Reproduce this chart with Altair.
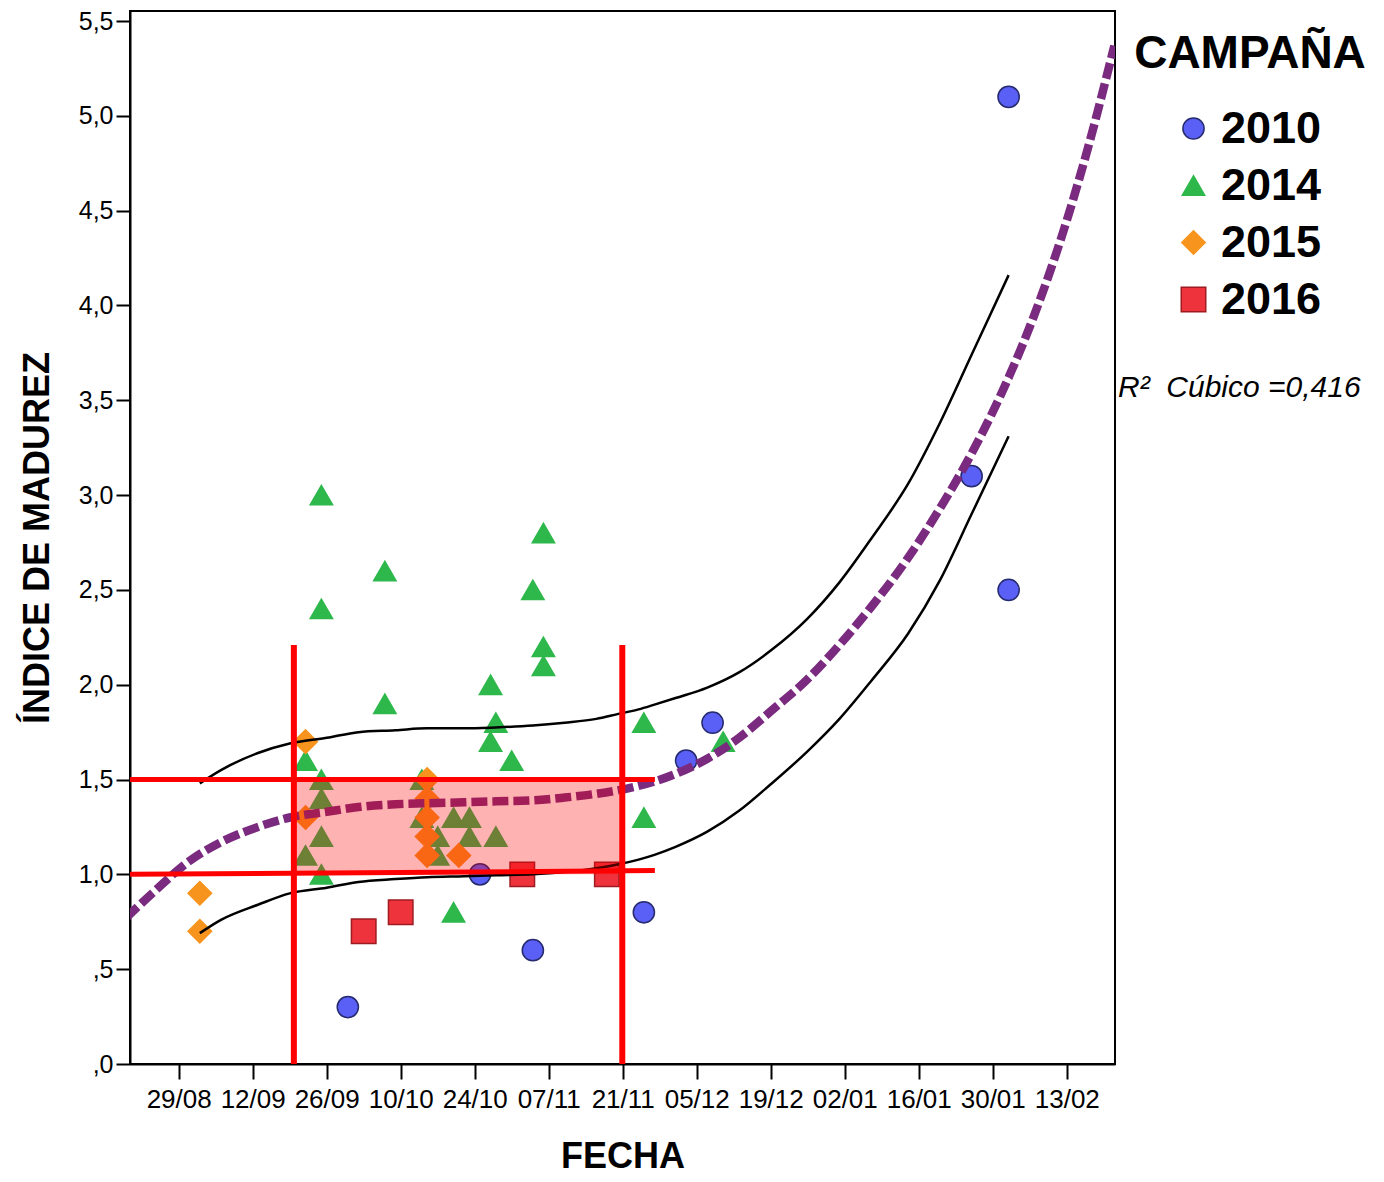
import altair as alt
import pandas as pd

# ---------------- data ----------------
CAMPANAS = ["2010", "2014", "2015", "2016"]

# 2010 (circles)
D2010_FECHA = ["09-30", "10-25", "11-04", "11-25", "12-03", "12-08", "01-26", "02-02", "02-02"]
D2010_IM = [0.30, 1.00, 0.60, 0.80, 1.60, 1.80, 3.10, 5.10, 2.50]

# 2014 (triangles)
D2014_FECHA = ["09-25", "09-25", "10-07", "10-07", "09-22", "09-25", "09-25", "09-25", "09-22", "09-25",
               "10-14", "10-14", "10-17", "10-17", "10-20", "10-23", "10-23", "10-28", "10-20",
               "10-27", "10-28", "10-27", "10-31", "11-04", "11-06", "11-06", "11-06",
               "11-25", "11-25", "12-10"]
D2014_IM = [3.0, 2.4, 2.6, 1.9, 1.6, 1.5, 1.4, 1.2, 1.1, 1.0,
            1.5, 1.3, 1.2, 1.1, 1.3, 1.3, 1.2, 1.2, 0.8,
            2.0, 1.8, 1.7, 1.6, 2.5, 2.8, 2.2, 2.1,
            1.8, 1.3, 1.7]

# 2015 (diamonds)
D2015_FECHA = ["09-02", "09-02", "09-22", "09-22", "10-15", "10-15", "10-15", "10-15", "10-15", "10-21"]
D2015_IM = [0.9, 0.7, 1.7, 1.3, 1.5, 1.4, 1.3, 1.2, 1.1, 1.1]

# 2016 (squares)
D2016_FECHA = ["10-03", "10-10", "11-02", "11-18"]
D2016_IM = [0.70, 0.80, 1.00, 1.00]

# cubic fit and its confidence bounds
FIT_FECHA = ["08-19", "08-24", "08-31", "09-06", "09-13", "09-19", "09-26", "10-02", "10-09",
             "10-15", "10-22", "10-28", "11-04", "11-10", "11-16", "11-23", "11-27", "12-01",
             "12-07", "12-13", "12-19", "12-26", "01-01", "01-07", "01-14", "01-20", "01-26",
             "02-02", "02-07", "02-12", "02-17", "02-22"]
FIT_IM = [0.77, 0.90, 1.07, 1.17, 1.25, 1.30, 1.33, 1.355, 1.37,
          1.375, 1.38, 1.385, 1.39, 1.405, 1.425, 1.46, 1.49, 1.53,
          1.61, 1.72, 1.86, 2.03, 2.21, 2.41, 2.67, 2.93, 3.22,
          3.62, 3.96, 4.36, 4.83, 5.37]

CI_FECHA = ["09-02", "09-06", "09-13", "09-19", "09-26", "10-02", "10-09", "10-15", "10-22",
            "10-28", "11-04", "11-10", "11-16", "11-20", "11-24", "11-27", "12-01", "12-07",
            "12-13", "12-19", "12-26", "01-01", "01-07", "01-14", "01-20", "01-26", "02-02"]
CI_UPPER = [1.48, 1.55, 1.64, 1.69, 1.72, 1.75, 1.76, 1.77, 1.77,
            1.775, 1.785, 1.80, 1.82, 1.845, 1.87, 1.895, 1.93, 1.985,
            2.065, 2.18, 2.35, 2.54, 2.77, 3.06, 3.38, 3.74, 4.16]
CI_LOWER = [0.69, 0.76, 0.84, 0.90, 0.93, 0.96, 0.975, 0.985, 0.99,
            0.995, 1.00, 1.012, 1.032, 1.052, 1.078, 1.103, 1.145, 1.225,
            1.335, 1.475, 1.65, 1.82, 2.02, 2.27, 2.55, 2.90, 3.31]

# highlighted window (red lines and shaded band)
WIN_START = "09-19T19:00"
WIN_END = "11-20T22:00"
WIN_TOP = 2.21
IM_LOW = [1.0, 1.02]
IM_HIGH = [1.5, 1.5]
H_LINE_END = "11-27T02:00"

X_MIN = "08-19T19:00"
X_MAX = "02-22T03:00"

X_TICKS = ["08-29", "09-12", "09-26", "10-10", "10-24", "11-07", "11-21",
           "12-05", "12-19", "01-02", "01-16", "01-30", "02-13"]
X_TICK_LABELS = ["29/08", "12/09", "26/09", "10/10", "24/10", "07/11", "21/11",
                 "05/12", "19/12", "02/01", "16/01", "30/01", "13/02"]
Y_TICKS = [0, 0.5, 1.0, 1.5, 2.0, 2.5, 3.0, 3.5, 4.0, 4.5, 5.0, 5.5]
Y_TICK_LABELS = [",0", ",5", "1,0", "1,5", "2,0", "2,5", "3,0", "3,5", "4,0", "4,5", "5,0", "5,5"]
Y_MAX = 5.553

R2_TEXT = "R\u00b2\u00a0\u00a0Cúbico =0,416"
LEGEND_TITLE = "CAMPAÑA"


# ---------------- helpers ----------------
def year_of(md):
    return 2016 if int(md[:2]) < 7 else 2015


def to_str(md):
    s = f"{year_of(md)}-{md}"
    return s if "T" in md else s + "T00:00:00"


def to_dt(md):
    y = year_of(md)
    mo = int(md[:2])
    d = int(md[3:5])
    h, mi = 0, 0
    if "T" in md:
        h, mi = int(md[6:8]), int(md[9:11])
    return alt.DateTime(year=y, month=mo, date=d, hours=h, minutes=mi)


rows = []
for camp, fe, im in [("2010", D2010_FECHA, D2010_IM), ("2014", D2014_FECHA, D2014_IM),
                     ("2015", D2015_FECHA, D2015_IM), ("2016", D2016_FECHA, D2016_IM)]:
    for f, v in zip(fe, im):
        rows.append({"fecha": to_str(f), "im": v, "campana": camp})
points_df = pd.DataFrame(rows)

fit_df = pd.DataFrame({"fecha": [to_str(f) for f in FIT_FECHA], "im": FIT_IM})
ci_df = pd.concat([
    pd.DataFrame({"fecha": [to_str(f) for f in CI_FECHA], "im": CI_UPPER, "bound": "upper"}),
    pd.DataFrame({"fecha": [to_str(f) for f in CI_FECHA], "im": CI_LOWER, "bound": "lower"}),
])
band_df = pd.DataFrame({"fecha": [to_str(WIN_START)], "fecha2": [to_str(WIN_END)],
                        "im": [IM_LOW[0]], "im2": [IM_HIGH[0]]})
vlines_df = pd.DataFrame({"fecha": [to_str(WIN_START), to_str(WIN_END)],
                          "im": [0, 0], "im2": [WIN_TOP, WIN_TOP]})
hlines_df = pd.DataFrame({"fecha": [to_str(X_MIN), to_str(X_MIN)],
                          "fecha2": [to_str(H_LINE_END), to_str(H_LINE_END)],
                          "im": [IM_HIGH[0], IM_LOW[0]], "im2": [IM_HIGH[1], IM_LOW[1]]})

FONT = "Liberation Sans"
x_label_expr = "[" + ",".join(f"'{l}'" for l in X_TICK_LABELS) + "]" \
    "[round((datum.value - datetime(2015,7,29)) / 1209600000)]"
y_label_expr = "[" + ",".join(f"'{l}'" for l in Y_TICK_LABELS) + "][round(datum.value * 2)]"

x_scale = alt.Scale(domain=[to_dt(X_MIN), to_dt(X_MAX)], nice=False)
y_scale = alt.Scale(domain=[0, Y_MAX], nice=False, zero=False)

x_axis = alt.Axis(values=[to_dt(t) for t in X_TICKS], labelExpr=x_label_expr, grid=False,
                  tickSize=15, tickWidth=2, tickColor="black", domainColor="black", domainWidth=2,
                  labelFont=FONT, labelFontSize=26, labelColor="black", labelPadding=7,
                  labelOverlap=False, titleFont=FONT, titleFontSize=36, titleFontWeight="bold",
                  titleColor="black", titlePadding=27)
y_axis = alt.Axis(values=Y_TICKS, labelExpr=y_label_expr, grid=False,
                  tickSize=14, tickWidth=2, tickColor="black", domainColor="black", domainWidth=2,
                  labelFont=FONT, labelFontSize=25, labelColor="black", labelPadding=3,
                  labelOverlap=False, titleFont=FONT, titleFontSize=36, titleFontWeight="bold",
                  titleColor="black", titlePadding=22)


def X(field="fecha"):
    return alt.X(f"{field}:T", scale=x_scale, axis=x_axis, title="FECHA")


def Y(field="im"):
    return alt.Y(f"{field}:Q", scale=y_scale, axis=y_axis, title="ÍNDICE DE MADUREZ")


FILLS = ["#5a60f5", "#2eb84c", "#f7941e", "#ef333c"]
STROKES = ["#262a6e", "#2eb84c", "#f7941e", "#9e1b21"]
SHAPES = ["circle", "triangle-up", "diamond", "square"]
SIZES = [450, 600, 380, 560]

legend = alt.Legend(orient="none", legendX=1041, legendY=95, padding=0, title=None,
                    labelFont=FONT, labelFontSize=45, labelFontWeight="bold", labelColor="black",
                    labelOffset=5, rowPadding=11, symbolStrokeWidth=1.5, symbolOpacity=1)

points = alt.Chart(points_df).mark_point(filled=True, opacity=1, strokeWidth=1.5).encode(
    x=X(), y=Y(),
    fill=alt.Fill("campana:N", scale=alt.Scale(domain=CAMPANAS, range=FILLS), legend=legend, title=None),
    stroke=alt.Stroke("campana:N", scale=alt.Scale(domain=CAMPANAS, range=STROKES), title=None),
    shape=alt.Shape("campana:N", scale=alt.Scale(domain=CAMPANAS, range=SHAPES), title=None),
    size=alt.Size("campana:N", scale=alt.Scale(domain=CAMPANAS, range=SIZES), title=None),
)

ci = alt.Chart(ci_df).mark_line(color="black", strokeWidth=2.5, interpolate="monotone").encode(
    x=X(), y=Y(), detail="bound:N")

fit = alt.Chart(fit_df).mark_line(color="#7a2a7f", strokeWidth=8.5, strokeDash=[16, 5],
                                  interpolate="monotone", clip=True).encode(x=X(), y=Y())

band = alt.Chart(band_df).mark_rect(color="#ff0000", opacity=0.3).encode(
    x=X(), x2="fecha2:T", y=Y(), y2="im2:Q")

vlines = alt.Chart(vlines_df).mark_rule(color="#ff0000", strokeWidth=6).encode(
    x=X(), y=Y(), y2="im2:Q")

hlines = alt.Chart(hlines_df).mark_rule(color="#ff0000", strokeWidth=5).encode(
    x=X(), x2="fecha2:T", y=Y(), y2="im2:Q")

title_txt = alt.Chart(pd.DataFrame({"t": [LEGEND_TITLE]})).mark_text(
    font=FONT, fontSize=46, fontWeight="bold", color="black", align="center", baseline="alphabetic"
).encode(text="t:N", x=alt.value(1120), y=alt.value(57))

r2_txt = alt.Chart(pd.DataFrame({"t": [R2_TEXT]})).mark_text(
    font=FONT, fontSize=30, fontStyle="italic", color="black", align="left", baseline="alphabetic"
).encode(text="t:N", x=alt.value(988), y=alt.value(386))

chart = alt.layer(points, ci, fit, band, vlines, hlines, title_txt, r2_txt).properties(
    width=985, height=1053,
    padding={"left": 122, "top": 3, "right": 250, "bottom": 118},
    autosize=alt.AutoSizeParams(type="none"),
    background="white",
).configure_view(stroke="black", strokeWidth=2)

chart.save("out.html", embed_options={"renderer": "svg", "actions": False})
